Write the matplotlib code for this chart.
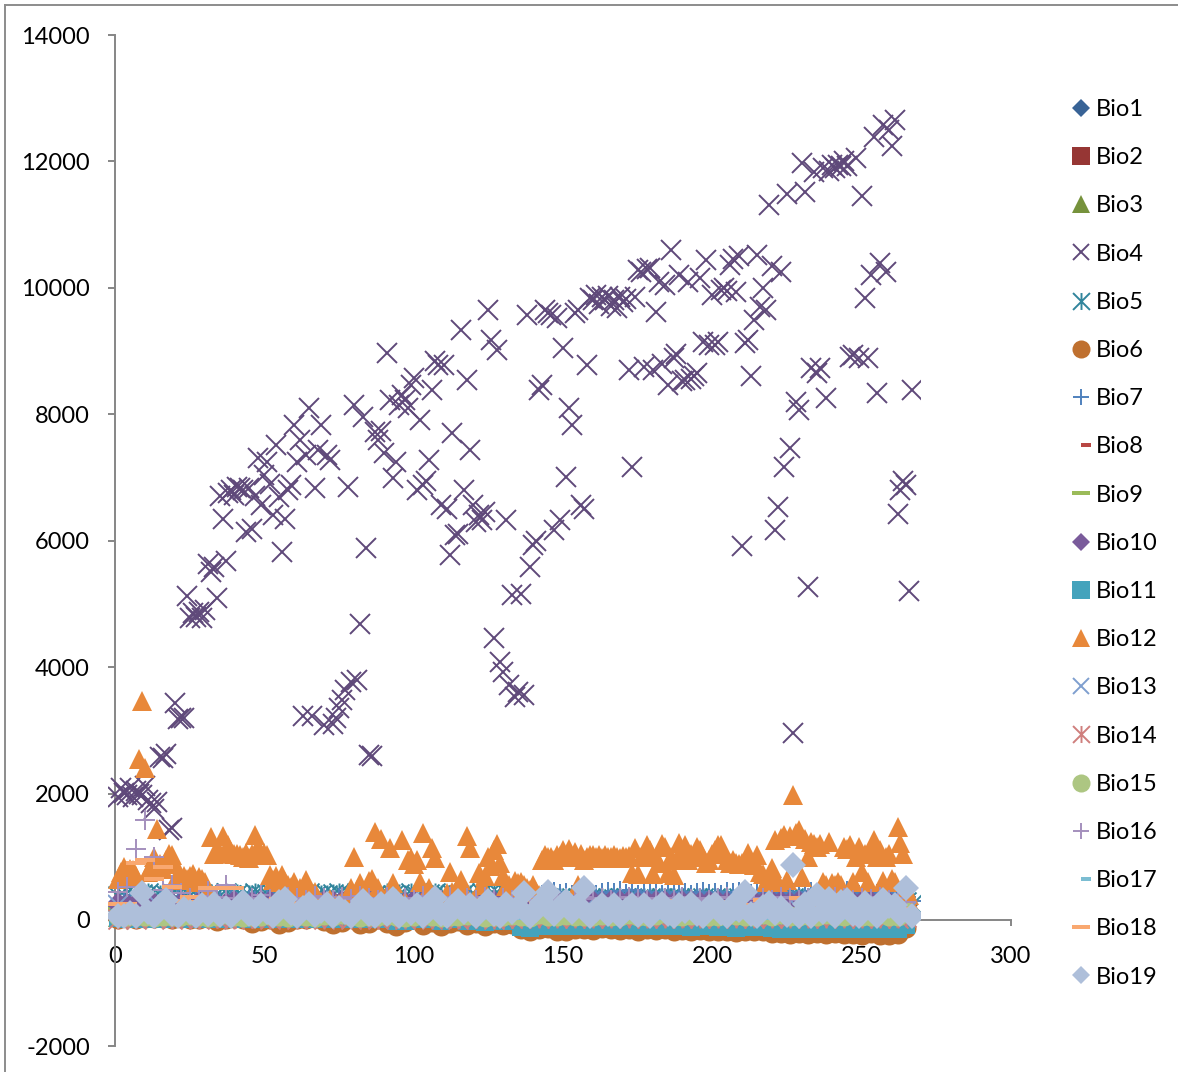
import numpy as np
import matplotlib
matplotlib.use("Agg")
import matplotlib.pyplot as plt
from matplotlib.lines import Line2D
from matplotlib.patches import Rectangle
from matplotlib.path import Path

# values, every point (x = 1, 2, 3 ...)
bio4 = [1950,2080,2010,1980,2090,1950,2040,2000,1980,2120,
        1900,1850,1760,1860,2580,2560,2630,1420,1450,3440,
        3180,3200,3190,5130,4780,4850,4800,4870,4780,4900,
        5630,5500,5580,5100,6700,6350,5680,6760,6800,6720,
        6850,6830,6800,6140,6830,6180,6700,7310,6560,7040,
        7250,6900,6400,7510,6690,5820,6350,6800,6880,7830,
        7250,7590,3230,7350,8100,3220,6830,7430,7830,3080,
        7350,7280,3100,3200,3350,3480,3640,6850,3760,8150,
        3800,4680,7960,5890,2610,2600,7720,7600,7740,7390,
        8970,8230,6990,7250,8150,8300,8230,8100,8460,8570,
        6800,7910,6880,6950,7280,8380,8850,8780,6560,8780,
        6500,5770,7700,6090,6100,9330,6800,8540,7430,6560,
        6300,6400,6330,6450,9650,9180,4460,9020,4080,3920,
        6330,3720,5140,3530,3600,5150,3560,9570,5590,5930,
        6000,8380,8460,9650,9600,9570,6170,9520,6330,9050,
        7000,8100,7830,9600,9650,6560,6500,8780,9840,9800,
        9880,9750,9850,9800,9870,9720,9800,9680,9850,9780,
        9830,8700,7170,9850,10280,10250,8750,10300,10310,8700,
        9620,10100,8800,10050,8460,10600,8890,8950,10200,8530,
        8540,10100,8560,8600,8650,10150,9150,10440,9100,9890,
        9100,9150,9970,10000,9950,10360,10450,9930,10500,5910,
        9120,9180,8610,9490,10520,9700,10000,9650,11310,10350,
        6170,6530,10250,7170,11480,7470,2960,8190,8070,11970,
        11520,5270,8730,11830,8650,8730,11900,8250,11850,11950,
        11900,11950,11920,12000,11930,8900,8930,12050,8890,11450,
        9840,8890,10200,12380,8330,10400,12580,10250,12500,12250,
        12650,6430,6800,6950,6880,5200,8380]

bio12 = [650,760,840,700,810,790,700,2540,3460,2400,
         760,850,1000,1440,880,800,950,1050,1020,880,
         720,640,700,650,700,720,600,680,650,600,
         480,1310,1050,1080,1060,1330,1100,1190,1080,1040,
         1050,1030,1000,1060,980,1050,1345,1150,1030,1060,
         1020,712,640,700,600,710,600,560,520,600,
         450,500,360,640,470,320,450,280,280,220,
         250,330,250,260,260,300,270,280,500,1000,
         480,580,450,420,610,650,1390,500,1280,300,
         300,1140,590,300,300,1265,300,950,980,886,
         950,600,1375,300,500,1140,980,260,300,300,
         430,760,450,300,250,630,450,1330,1140,300,
         300,750,550,700,990,850,1100,1200,900,700,
         540,550,500,620,580,600,550,500,480,560,
         450,400,950,1030,1000,1000,950,1020,1010,1100,
         1000,1120,1000,1080,550,1050,950,1000,1030,1020,
         1000,1020,980,1030,1000,990,1020,1000,980,1010,
         1000,1010,750,1140,720,1000,1000,1180,1100,720,
         1000,900,1200,1150,750,1000,710,950,1220,1000,
         1180,950,1050,1000,1150,1100,1000,900,950,1050,
         1100,1190,1180,1050,950,900,950,900,880,900,
         900,1060,900,870,1030,760,720,600,700,820,
         1265,600,1300,1340,630,1330,1980,1375,1420,680,
         1280,1000,1230,1200,1150,1200,600,550,1230,580,
         550,600,560,1150,1130,1180,600,1000,1150,760,
         1050,600,1100,1265,1000,1100,620,1000,1040,650,
         600,1470,1215,1040,500,400,200]

# x = 1, 3, 5 ...
bio5 = [380,400,420,390,410,430,380,400,390,420,410,380,400,390,410,420,380,400,430,390,
        410,380,400,420,390,410,400,380,420,390,400,410,430,380,400,390,410,420,380,400,
        430,390,410,400,380,420,390,410,400,430,380,390,410,420,400,380,410,390,430,400,
        380,420,390,410,400,420,380,360,350,340,330,340,350,330,340,320,350,340,330,340,
        320,350,340,330,350,340,320,330,340,350,320,340,330,350,340,320,330,340,350,330,
        340,320,350,330,340,320,350,340,330,340,320,350,330,340,350,320,330,340,350,330,
        340,320,350,330,340,320,340,330,320,310,300,290,280,260]
bio7 = [260,300,280,330,350,310,280,330,300,270,320,290,340,300,320,350,300,280,340,310,
        290,330,310,300,340,320,290,330,310,300,320,340,300,330,290,320,310,340,300,320,
        330,290,310,340,300,320,330,310,290,340,300,320,310,330,300,340,290,320,310,330,
        300,320,340,310,300,330,310,320,340,300,330,390,420,440,410,430,400,420,440,410,
        400,430,450,420,460,410,470,400,440,420,450,400,430,410,440,420,400,430,450,410,
        430,400,440,420,450,460,410,430,400,450,420,440,400,430,410,450,440,420,400,430,
        410,440,460,420,400,450,420,410,440,460,430,400,360,300]
bio19 = [70,70,110,70,430,130,70,220,320,90,
         70,170,120,70,230,100,260,80,190,70,
         150,290,100,70,230,120,70,290,330,110,
         70,190,250,80,140,260,70,190,120,70,
         180,300,90,70,260,100,330,70,180,110,
         230,70,150,340,100,70,210,300,130,240,
         70,180,300,100,70,260,130,200,430,70,
         150,280,440,90,210,300,120,230,500,70,
         160,240,100,240,70,150,240,80,230,70,
         170,250,100,70,230,140,250,90,70,200,
         250,110,70,230,150,440,90,70,210,270,
         110,190,80,870,70,260,70,400,120,330,
         70,280,320,100,70,270,170,70,310,220,
         240,90,500,70]

# x = 1, 4, 7 ...
bio6 = [20,30,20,30,25,30,20,30,10,20,30,-20,10,30,20,-40,-20,20,-60,-30,
        20,10,30,-20,-60,-30,30,-70,-40,10,-50,-90,-30,20,-80,-30,-90,-50,-20,-80,
        -40,-90,-50,-80,-60,-150,-170,-140,-130,-170,-180,-140,-150,-160,-130,-150,-160,-150,-170,-150,
        -160,-150,-170,-160,-180,-160,-170,-180,-170,-190,-170,-180,-170,-200,-210,-220,-210,-220,-210,-220,
        -210,-220,-220,-230,-210,-230,-240,-220,-120]
bio10 = [250,240,260,230,250,240,260,250,240,270,250,230,260,280,250,270,290,280,300,290,
         280,300,270,290,280,290,270,280,300,270,280,290,270,300,280,270,290,280,270,290,
         280,270,290,280,260,280,290,280,270,290,280,270,290,280,270,280,290,280,270,290,
         280,290,270,280,290,270,280,290,270,280,290,280,270,290,280,270,290,280,290,270,
         280,290,270,280,290,280,270,230,180]
bio11 = [30,20,30,20,30,20,30,30,20,30,20,30,20,30,20,30,10,20,30,10,
         20,30,20,30,10,20,30,20,30,10,20,-20,-20,10,20,10,-20,20,10,-20,
         10,-30,20,-20,10,-110,-120,-90,-90,-100,-100,-90,-90,-100,-90,-90,-100,-90,-100,-90,
         -100,-90,-100,-100,-110,-100,-100,-110,-100,-120,-110,-110,-110,-130,-140,-150,-140,-150,-140,-150,
         -140,-150,-150,-150,-140,-150,-150,-140,-80]
bio14 = [20,30,20,30,25,30,20,30,25,20,30,25,30,20,30,25,30,20,25,30,
         20,30,25,20,30,25,20,30,25,20,30,25,20,25,30,20,25,30,20,25,
         30,25,20,30,25,30,40,30,40,35,40,30,40,35,40,30,40,35,40,30,
         40,35,40,30,40,35,40,30,40,35,40,30,40,35,40,30,40,35,40,30,
         40,35,40,30,40,35,40,30,50]
bio15 = [60,70,55,60,50,60,70,55,80,60,50,70,90,60,50,70,60,80,60,50,
         70,60,50,80,60,90,60,50,70,60,80,60,50,70,90,60,50,70,60,80,
         60,50,70,60,80,60,50,90,60,70,80,60,70,60,80,70,60,100,70,60,
         80,110,70,60,80,100,60,70,120,80,60,70,100,60,90,70,60,80,60,100,
         70,60,110,70,60,90,70,60,130]
bio16 = [450,520,1130,1580,1000,480,560,420,350,380,460,360,560,340,320,350,400,330,300,370,
         340,320,380,350,310,360,330,380,340,310,360,330,350,320,380,340,310,360,330,350,
         320,360,330,350,310,340,360,320,350,330,340,310,360,330,350,320,340,360,330,310,
         350,340,320,360,330,350,310,340,360,320,350,330,340,310,360,340,320,350,330,310,
         360,340,320,350,330,360,310,340,280]
bio18 = [250,250,900,950,650,840,520,300,360,290,500,505,506,500,280,240,200,200,330,250,
         160,220,130,240,180,120,210,150,240,180,130,230,170,120,200,250,160,110,220,180,
         130,240,150,100,210,170,120,260,190,140,300,130,110,220,270,140,100,240,170,280,
         130,210,300,120,180,260,110,200,290,150,100,240,320,140,190,120,340,260,200,130,
         330,170,110,290,210,130,260,170,90]

# x = 1, 13, 25 ... mostly covered by the later series
bio1 = [170,180,190,200,210,220,230,240,250,245,240,235,250,255,260,250,245,255,260,265,250,245,230]
bio2 = [100,110,120,115,125,120,130,125,120,130,125,130,125,120,130,125,130,125,130,125,120,130,110]
bio3 = [40,45,50,45,50,48,52,50,46,50,48,52,50,48,50,46,50,48,46,50,48,46,45]
bio8 = [160,180,200,210,230,240,230,250,240,260,250,240,260,250,260,240,250,260,250,240,260,250,230]
bio9 = [180,190,210,220,240,250,240,260,250,270,260,250,270,260,270,250,260,270,260,250,270,260,240]
bio13 = [230,300,200,150,120,180,130,200,170,150,190,160,140,180,150,190,160,170,140,180,150,170,120]
bio17 = [60,50,40,30,20,35,25,40,30,25,35,30,20,30,25,35,30,20,30,25,30,20,20]

labels = ["Bio%d" % i for i in range(1, 20)]

# excel style markers that matplotlib does not have
star = Path([(-1, -1), (1, 1), (-1, 1), (1, -1), (0, -1), (0, 1)],
            [Path.MOVETO, Path.LINETO, Path.MOVETO, Path.LINETO, Path.MOVETO, Path.LINETO])
long_dash = [(-1, -0.22), (1, -0.22), (1, 0.22), (-1, 0.22), (-1, -0.22)]
short_dash = [(0, -0.22), (1, -0.22), (1, 0.22), (0, 0.22), (0, -0.22)]

plt.rcParams["font.family"] = ["Lato", "DejaVu Sans"]
plt.rcParams["axes.unicode_minus"] = False
fig = plt.figure(figsize=(11.78, 10.72), dpi=100)
ax = fig.add_axes([115 / 1178, 1 - 1046.4 / 1072, 896 / 1178, 1011.4 / 1072])

#         data   step marker      fill       size legend
styles = [(bio1, 12, "D", "#386396", 12.7, 9.2),
          (bio2, 12, "s", "#963634", 13.0, 13.0),
          (bio3, 12, "^", "#76923C", 14.4, 13.0),
          (bio4, 1, "x", "#5F497A", 14.4, 12.2),
          (bio5, 2, star, "#31859C", 14.4, 12.2),
          (bio6, 3, "o", "#BF702F", 14.4, 13.0),
          (bio7, 2, "+", "#4F81BD", 14.4, 12.2),
          (bio8, 12, short_dash, "#B84743", 15.0, 15.0),
          (bio9, 12, long_dash, "#9BBB59", 14.4, 13.0),
          (bio10, 3, "D", "#7A5B9B", 12.7, 9.2),
          (bio11, 3, "s", "#44A3BC", 13.0, 13.0),
          (bio12, 1, "^", "#E8883A", 14.4, 13.0),
          (bio13, 12, "x", "#7F9FCF", 14.4, 12.2),
          (bio14, 3, star, "#CF7F7D", 14.4, 12.2),
          (bio15, 3, "o", "#ADC682", 14.4, 13.0),
          (bio16, 3, "+", "#A48FBD", 14.4, 12.2),
          (bio17, 12, short_dash, "#7BBDD2", 15.0, 15.0),
          (bio18, 3, long_dash, "#F9A870", 14.4, 13.0),
          (bio19, 2, "D", "#AEBFDA", 13.2, 9.2)]

# the markers get cut off a bit left of the axis and right after the last point
clip = Rectangle((-2.3, -2000), 271.8, 16000, transform=ax.transData)
handles = []
for name, (vals, step, marker, col, ms, legend_ms) in zip(labels, styles):
    xs = np.arange(len(vals)) * step + 1
    is_line = marker in ("x", "+") or marker is star
    kw = dict(ls="none", marker=marker, mfc=col, mec=col, mew=1.4 if is_line else 0)
    line, = ax.plot(xs, vals, ms=ms, **kw)
    line.set_clip_path(clip)
    handles.append(Line2D([], [], ms=legend_ms, **kw))

ax.set_xlim(0, 300)
ax.set_ylim(-2000, 14000)
ax.set_xticks(range(0, 301, 50))
ax.set_yticks(range(-2000, 14001, 2000))
ax.patch.set_visible(False)
ax.set_axisbelow(True)
for s in ["top", "right"]:
    ax.spines[s].set_visible(False)
ax.spines["bottom"].set_position(("data", 0))
for s in ["left", "bottom"]:
    ax.spines[s].set_color("#868686")
    ax.spines[s].set_linewidth(1.4)
    ax.spines[s].set_zorder(1)
ax.tick_params(axis="x", length=4.5, width=1.4, color="#868686", pad=14, labelsize=17, labelcolor="black")
ax.tick_params(axis="y", length=5, width=1.4, color="#868686", pad=13, labelsize=17, labelcolor="black")

ax.legend(handles, labels, loc="upper left", bbox_to_anchor=(1069 / 1178, 1 - 99 / 1072),
          bbox_transform=fig.transFigure, frameon=False, fontsize=17, numpoints=1,
          handlelength=1.0, handletextpad=0.15, labelspacing=1.152, borderpad=0, borderaxespad=0)

# outer chart border, only left and top are in the crop
fig.add_artist(Line2D([5 / 1178, 5 / 1178], [0, 1 - 5 / 1072], color="#8C8C8C", lw=1.4))
fig.add_artist(Line2D([5 / 1178, 1], [1 - 5 / 1072, 1 - 5 / 1072], color="#8C8C8C", lw=1.4))

fig.savefig("out.png", dpi=100)
